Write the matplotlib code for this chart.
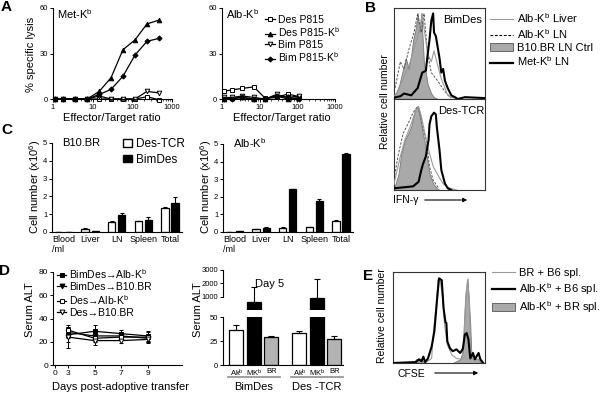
import matplotlib
matplotlib.use("Agg")
import matplotlib.pyplot as plt
from matplotlib.lines import Line2D
from matplotlib.patches import Patch, FancyArrowPatch
import numpy as np

W, H = 600, 394

plt.rcParams.update({
    "font.family": ["Liberation Sans", "DejaVu Sans"],
    "font.size": 8,
    "mathtext.default": "regular",
    "axes.linewidth": 0.8,
    "axes.spines.top": False,
    "axes.spines.right": False,
    "xtick.major.width": 0.7, "ytick.major.width": 0.7,
    "xtick.major.size": 2.2, "ytick.major.size": 2.2,
    "xtick.minor.size": 1.2, "xtick.minor.width": 0.5,
    "ytick.minor.size": 0,
    "xtick.labelsize": 5.5, "ytick.labelsize": 5.5,
    "xtick.major.pad": 1.5, "ytick.major.pad": 1.2,
})

# ---- A: specific lysis ----
et_met = [1.1, 1.8, 3.6, 7.3, 14.6, 29, 58, 117, 234, 468]
met_des_p815 = [0, 0, 0, 0, 0, 0, 0, 0, 1.5, -0.5]
met_des_p815kb = [0, 0, 0, 0, 5, 14, 32.5, 39, 49.5, 52]
met_bim_p815 = [0, 0, 0, 0, 2, 0, 0, 0, 5, 4]
met_bim_p815kb = [0, 0, 0, 0, 3, 6.3, 15, 29, 38, 40]
et_alb = [1.1, 1.8, 3.5, 7, 14, 28, 56, 112]
alb_des_p815 = [5, 6, 7, 8, 0.5, 1, 3.3, 1.5]
alb_des_p815kb = [0, 0.5, 1, 0, 0, 2, 0, 1]
alb_bim_p815 = [1, 1, 2, 1, 0, 3, 1, 2]
alb_bim_p815kb = [0, 0, 1, 0, 0, 2, 1, 0]

# ---- B: IFN-g histograms (channel %, relative count %) ----
bt_fill_x = [0, 2, 6, 9, 13, 16, 19, 21, 24, 26, 28, 30, 32, 33, 35, 37, 41, 44, 48]
bt_fill_y = [4, 6, 16, 29, 45, 33, 49, 65, 78, 94, 74, 94, 57, 37, 29, 16, 6, 2, 0]
bt_liver_x = [0, 4, 11, 18, 26, 30, 31, 33, 37, 41, 44, 48, 52, 56, 59, 63, 70]
bt_liver_y = [3, 8, 24, 41, 69, 86, 94, 78, 49, 41, 53, 37, 22, 12, 4, 2, 0]
bt_ln_x = [0, 2, 7, 11, 17, 22, 26, 30, 33, 37, 41, 48, 56, 63]
bt_ln_y = [8, 16, 41, 33, 57, 73, 94, 73, 94, 49, 29, 20, 8, 1]
bt_met_x = [0, 2, 7, 11, 19, 26, 31, 35, 37, 39, 41, 43, 44, 46, 48, 50, 52, 54, 56, 59, 63, 67, 70, 78, 100]
bt_met_y = [1, 2, 3, 6, 4, 12, 29, 31, 49, 65, 86, 94, 73, 69, 57, 45, 29, 33, 20, 12, 4, 2, 0, 2, 1]

bb_fill_x = [0, 1, 5, 8, 12, 16, 19, 23, 26, 28, 31, 34, 36, 39, 43, 47, 50]
bb_fill_y = [2, 4, 18, 40, 55, 63, 70, 88, 92, 85, 66, 51, 37, 18, 7, 2, 0]
bb_liver_x = [0, 1, 7, 12, 18, 23, 27, 30, 34, 38, 43, 49, 54, 61, 69]
bb_liver_y = [6, 11, 37, 55, 70, 85, 92, 81, 62, 44, 26, 15, 7, 2, 0]
bb_ln_x = [0, 1, 5, 10, 16, 21, 26, 30, 36, 39, 43, 49]
bb_ln_y = [12, 18, 40, 62, 74, 85, 92, 77, 51, 26, 11, 2]
bb_met_x = [0, 1, 21, 27, 30, 32, 35, 38, 39, 41, 44, 46, 47, 50, 52, 56, 59, 63]
bb_met_y = [2, 2, 4, 9, 22, 29, 37, 55, 72, 81, 85, 83, 70, 44, 22, 7, 2, 0]

# ---- C: cell numbers (x10^6) ----
organs = ["Blood\n/ml", "Liver", "LN", "Spleen", "Total"]
b10_des = [0.02, 0.15, 0.58, 0.6, 1.35]
b10_des_err = [0, 0.05, 0.03, 0.03, 0.03]
b10_bim = [0.02, 0.07, 0.97, 0.7, 1.65]
b10_bim_err = [0, 0.01, 0.08, 0.17, 0.3]
alb_des = [0.02, 0.15, 0.25, 0.28, 0.65]
alb_des_err = [0, 0.03, 0.02, 0.02, 0.02]
alb_bim = [0.04, 0.25, 2.45, 1.75, 4.45]
alb_bim_err = [0, 0.03, 0.02, 0.13, 0.05]

# ---- D: serum ALT ----
days = [3, 5, 7, 9]
alt_bim_alb = [26, 29, 27, 25]
alt_bim_alb_err = [6, 5, 3, 4]
alt_bim_b10 = [28, 25, 25, 23]
alt_bim_b10_err = [5, 4, 3, 3]
alt_des_alb = [30, 23, 24, 24]
alt_des_alb_err = [4, 3, 2, 4]
alt_des_b10 = [24, 21, 21, 22]
alt_des_b10_err = [9, 4, 2, 3]

d5_labels = ["Ak$^b$", "MK$^b$", "BR", "Ak$^b$", "MK$^b$", "BR"]
d5_groups = ["BimDes", "Des -TCR"]
d5_alt = [36, 600, 29, 33, 900, 27]
d5_err = [5.5, 1150, 1, 2, 1450, 3]

# ---- E: CFSE histograms ----
e_b6_x = [0, 36, 42, 44, 47, 49, 51, 54, 56, 59, 64, 69, 75, 77, 79, 81, 83, 84, 87, 91, 98]
e_b6_y = [0, 1, 5, 35, 64, 91, 93, 71, 42, 20, 9, 5, 4, 24, 71, 91, 71, 20, 5, 4, 0]
e_alb_b6_x = [0, 25, 28, 31, 33, 35, 38, 42, 45, 48, 50, 53, 55, 57, 58, 59, 62, 65, 69, 73,
              75, 76, 78, 80, 82, 84, 87, 89, 93, 95, 98]
e_alb_b6_y = [0, 1, 4, 2, 7, 1, 5, 18, 35, 71, 93, 91, 60, 45, 44, 24, 16, 13, 15, 11,
              14, 16, 31, 33, 26, 5, 11, 4, 11, 4, 0]
e_alb_br_x = [0, 22, 25, 29, 32, 35, 65, 73, 76, 77, 79, 81, 82, 84, 85, 88, 92, 95, 100]
e_alb_br_y = [0, 1, 4, 5, 3, 0, 0, 4, 13, 42, 78, 93, 75, 42, 13, 4, 5, 1, 0]

GREY_FILL = "#a9a9a9"
GREY_LINE = "#9a9a9a"


def rect(l, t, r, b):
    return [l / W, 1 - b / H, (r - l) / W, (b - t) / H]


def fx(x):
    return x / W


def fy(y):
    return 1 - y / H


fig = plt.figure(figsize=(6, 3.94), dpi=100)


def letter(x, y, s):
    fig.text(fx(x), fy(y), s, fontsize=11, fontweight="bold", ha="center", va="center")


def arrow(x0, x1, y):
    fig.add_artist(FancyArrowPatch((fx(x0), fy(y)), (fx(x1), fy(y)), transform=fig.transFigure,
                                   arrowstyle="-|>", mutation_scale=6, lw=0.8, color="black"))


def lysis_axes(r, et, series, title):
    ax = fig.add_axes(r)
    markers = [("s", "white"), ("^", "black"), ("v", "white"), ("D", "black")]
    for vals, (m, fc) in zip(series, markers):
        ax.plot(et, vals, color="black", lw=0.9, marker=m, ms=3.3 if m != "D" else 2.6,
                mfc=fc, mec="black", mew=0.7, clip_on=False)
    ax.set_xscale("log")
    ax.set_xlim(1, 1000)
    ax.set_ylim(0, 60)
    ax.set_xticks([1, 10, 100, 1000], ["1", "10", "100", "1000"])
    ax.set_yticks([0, 30, 60])
    fig.text(r[0] + 4 / W, fy(14), title, fontsize=8, va="center")
    return ax


a1 = lysis_axes(rect(53, 8, 172, 99), et_met,
                [met_des_p815, met_des_p815kb, met_bim_p815, met_bim_p815kb], "Met-K$^b$")
a2 = lysis_axes(rect(222, 8, 335, 99), et_alb,
                [alb_des_p815, alb_des_p815kb, alb_bim_p815, alb_bim_p815kb], "Alb-K$^b$")
fig.text(fx(31), fy(54), "% specific lysis", rotation=90, ha="center", va="center", fontsize=8)
fig.text(fx(112), fy(118), "Effector/Target ratio", ha="center", va="center", fontsize=8)
fig.text(fx(282), fy(118), "Effector/Target ratio", ha="center", va="center", fontsize=8)
a2.legend(a2.lines, ["Des P815", "Des P815-K$^b$", "Bim P815", "Bim P815-K$^b$"],
          loc="upper left", bbox_to_anchor=(fx(265), fy(15)), bbox_transform=fig.transFigure,
          frameon=False, fontsize=7.5, handlelength=1.0, handletextpad=0.25,
          labelspacing=0.05, borderpad=0, borderaxespad=0)
letter(6, 7, "A")


# ---- B ----
def hist_axes(r):
    ax = fig.add_axes(r)
    for s in ax.spines.values():
        s.set_visible(True)
        s.set_linewidth(0.8)
        s.set_color("#333333")
    ax.set_xticks([])
    ax.set_yticks([])
    ax.set_xlim(0, 100)
    ax.set_ylim(0, 100)
    return ax


for r, fxs, fys, lvx, lvy, lnx, lny, mx, my in [
    (rect(394, 8, 485, 99), bt_fill_x, bt_fill_y, bt_liver_x, bt_liver_y, bt_ln_x, bt_ln_y,
     bt_met_x, bt_met_y),
    (rect(394, 99, 485, 190), bb_fill_x, bb_fill_y, bb_liver_x, bb_liver_y, bb_ln_x, bb_ln_y,
     bb_met_x, bb_met_y),
]:
    ax = hist_axes(r)
    ax.fill_between(fxs, fys, color=GREY_FILL, lw=0.6, edgecolor="#777777", zorder=1)
    ax.plot(lnx, lny, color="#555555", lw=0.7, ls=(0, (2.5, 1.5)), zorder=2)
    ax.plot(lvx, lvy, color=GREY_LINE, lw=0.8, zorder=3)
    ax.plot(mx, my, color="black", lw=1.5, zorder=4)

fig.text(fx(482), fy(20), "BimDes", ha="right", va="center", fontsize=8)
fig.text(fx(438), fy(111), "Des-TCR", ha="left", va="center", fontsize=8)
fig.text(fx(385), fy(102), "Relative cell number", rotation=90, ha="center", va="center", fontsize=7.5)
fig.text(fx(393), fy(200), "IFN-\u03b3", ha="left", va="center", fontsize=7.5)
arrow(422, 470, 200)
b_handles = [Line2D([], [], color=GREY_LINE, lw=0.8),
             Line2D([], [], color="black", lw=0.8, ls=(0, (2.5, 1.5))),
             Patch(facecolor=GREY_FILL, edgecolor="#555555", lw=0.6),
             Line2D([], [], color="black", lw=1.6)]
fig.legend(b_handles, ["Alb-K$^b$ Liver", "Alb-K$^b$ LN", "B10.BR LN Ctrl", "Met-K$^b$ LN"],
           loc="upper left", bbox_to_anchor=(fx(490), fy(11)), frameon=False, fontsize=8,
           handlelength=2.1, handletextpad=0.35, labelspacing=0.18, borderpad=0, borderaxespad=0)
letter(371, 8, "B")


# ---- C ----
def cells_axes(r, des, des_err, bim, bim_err, title):
    ax = fig.add_axes(r)
    x = np.arange(len(organs))
    off, wd = 0.19, 0.27
    z = np.zeros(len(organs))
    ax.bar(x - off, des, wd, color="white", edgecolor="black", lw=0.9,
           yerr=[z, des_err], error_kw=dict(lw=0.8, capsize=1.5, capthick=0.8))
    ax.bar(x + off, bim, wd, color="black", edgecolor="black", lw=0.9,
           yerr=[z, bim_err], error_kw=dict(lw=0.8, capsize=1.5, capthick=0.8))
    ax.set_xlim(-0.43, 4.45)
    ax.set_ylim(0, 5)
    ax.set_yticks(range(6))
    ax.set_xticks(x, organs, fontsize=6.5)
    ax.tick_params(axis="x", length=0, pad=2)
    for t in ax.get_xticklabels():
        t.set_multialignment("left")
    fig.text(r[0] + 10 / W, fy(143), title, va="center", fontsize=8)
    return ax


c1 = cells_axes(rect(52, 143, 182, 232), b10_des, b10_des_err, b10_bim, b10_bim_err, "B10.BR")
c2 = cells_axes(rect(223, 144, 353, 232), alb_des, alb_des_err, alb_bim, alb_bim_err, "Alb-K$^b$")
for xx in (35, 206):
    fig.text(fx(xx), fy(187), "Cell number (x10$^6$)", rotation=90, ha="center", va="center", fontsize=8)
fig.legend([Patch(facecolor="white", edgecolor="black", lw=1.0),
            Patch(facecolor="black", edgecolor="black", lw=1.0)],
           ["Des-TCR", "BimDes"], loc="upper left", bbox_to_anchor=(fx(123), fy(138)),
           frameon=False, fontsize=8.5, handlelength=0.8, handleheight=0.6,
           handletextpad=0.3, labelspacing=0.3, borderpad=0, borderaxespad=0)
letter(7, 130, "C")

# ---- D left ----
d1 = fig.add_axes(rect(53, 272, 182, 365))
for vals, err, m, fc in [(alt_bim_alb, alt_bim_alb_err, "s", "black"),
                         (alt_bim_b10, alt_bim_b10_err, "v", "black"),
                         (alt_des_alb, alt_des_alb_err, "s", "white"),
                         (alt_des_b10, alt_des_b10_err, "v", "white")]:
    d1.errorbar(days, vals, yerr=err, color="black", lw=0.9, marker=m, ms=3.5,
                mfc=fc, mec="black", mew=0.7, capsize=1.5, elinewidth=0.7)
d1.set_xlim(1.86, 11.6)
d1.set_ylim(0, 80)
d1.set_yticks([0, 20, 40, 60, 80])
d1.set_xticks([2, 3, 5, 7, 9], ["0", "3", "5", "7", "9"])
d1.tick_params(labelsize=6)
d1.legend([Line2D([], [], color="black", lw=0.9, marker=m, ms=3.5, mfc=fc, mec="black", mew=0.7)
           for m, fc in [("s", "black"), ("v", "black"), ("s", "white"), ("v", "white")]],
          ["BimDes\u2192Alb-K$^b$", "BimDes\u2192B10.BR", "Des\u2192Alb-K$^b$", "Des\u2192B10.BR"],
          loc="upper left", bbox_to_anchor=(fx(57), fy(267)), bbox_transform=fig.transFigure,
          frameon=False, fontsize=7.5, handlelength=0.9, handletextpad=0.25,
          labelspacing=0.1, borderpad=0, borderaxespad=0)
fig.text(fx(30), fy(310), "Serum ALT", rotation=90, ha="center", va="center", fontsize=8)
fig.text(fx(121), fy(387), "Days post-adoptive transfer", ha="center", va="center", fontsize=8)
letter(5, 271, "D")

# ---- D right (broken axis) ----
pos = np.r_[np.arange(3), np.arange(3) + 3.6]
fills = ["white", "black", "#b3b3b3"] * 2
du = fig.add_axes(rect(223, 270, 343, 310))
dl = fig.add_axes(rect(223, 317, 343, 365))
vals = np.array(d5_alt, dtype=float)
errs = np.array(d5_err, dtype=float)
big = vals > 50
for axx in (du, dl):
    axx.set_xlim(-0.77, 6.09)
    axx.tick_params(axis="y", labelsize=5.5)
dl.bar(pos, vals, 0.8, color=fills, edgecolor="black", lw=0.9)
dl.errorbar(pos[~big], vals[~big], yerr=[np.zeros((~big).sum()), errs[~big]], fmt="none",
            ecolor="black", lw=0.8, capsize=2, capthick=0.8)
dl.set_ylim(0, 50)
dl.set_yticks([0, 25, 50])
dl.set_xticks(pos, d5_labels, fontsize=5.5)
dl.tick_params(axis="x", length=0, pad=2)
du.bar(pos[big], vals[big], 0.8, color="black", edgecolor="black", lw=0.9)
du.errorbar(pos[big], vals[big], yerr=[np.zeros(big.sum()), errs[big]], fmt="none",
            ecolor="black", lw=0.8, capsize=2, capthick=0.8)
du.set_ylim(0, 3000)
du.set_yticks([1000, 2000, 3000])
du.spines["left"].set_bounds(1000, 3000)
du.spines["bottom"].set_visible(False)
du.set_xticks([])
tr = dl.get_xaxis_transform()
for g, name in enumerate(d5_groups):
    lo, hi = pos[3 * g] - 0.5, pos[3 * g + 2] + 0.5
    dl.plot([lo, hi], [-0.25, -0.25], color="#999999", lw=1.3, transform=tr, clip_on=False)
    dl.text((lo + hi) / 2, -0.45, name, transform=tr, ha="center", va="center", fontsize=8)
fig.text(fx(198), fy(310), "Serum ALT", rotation=90, ha="center", va="center", fontsize=8)
fig.text(fx(270), fy(284), "Day 5", ha="center", va="center", fontsize=8)

# ---- E ----
e = hist_axes(rect(393, 272, 485, 363))
e.fill_between(e_alb_br_x, e_alb_br_y, color=GREY_FILL, lw=0.6, edgecolor="#777777", zorder=1)
e.plot(e_b6_x, e_b6_y, color=GREY_LINE, lw=0.8, zorder=2)
e.plot(e_alb_b6_x, e_alb_b6_y, color="black", lw=1.5, zorder=3)
fig.legend([Line2D([], [], color=GREY_LINE, lw=0.8), Line2D([], [], color="black", lw=1.6),
            Patch(facecolor=GREY_FILL, edgecolor="#555555", lw=0.6)],
           ["BR + B6 spl.", "Alb-K$^b$ + B6 spl.", "Alb-K$^b$ + BR spl."],
           loc="upper left", bbox_to_anchor=(fx(492), fy(268)), frameon=False, fontsize=8,
           handlelength=2.1, handletextpad=0.35, labelspacing=0.25, borderpad=0, borderaxespad=0)
fig.text(fx(382), fy(316), "Relative cell number", rotation=90, ha="center", va="center", fontsize=7.5)
fig.text(fx(397), fy(374), "CFSE", ha="left", va="center", fontsize=7.5)
arrow(432, 481, 373)
letter(368, 276, "E")

fig.savefig("out.png", dpi=100)
